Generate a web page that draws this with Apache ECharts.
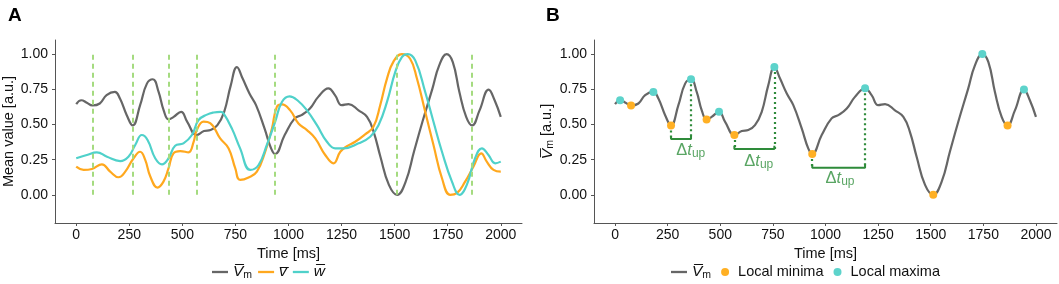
<!DOCTYPE html>
<html><head><meta charset="utf-8">
<script src="https://cdn.jsdelivr.net/npm/echarts@6/dist/echarts.min.js"></script>
<style>html,body{margin:0;padding:0;background:#fff}#c{width:1059px;height:284px}</style>
</head><body><div id="c"></div>
<script>
// ---- data ----
const xTicks = [0, 250, 500, 750, 1000, 1250, 1500, 1750, 2000];
const yTicks = [0, 0.25, 0.5, 0.75, 1];
const vm = [[0,0.644],[24,0.672],[50,0.655],[76,0.635],[111,0.649],[143,0.708],[182,0.731],[206,0.684],[238,0.566],[266,0.493],[301,0.637],[333,0.79],[361,0.821],[388,0.731],[412,0.60],[435,0.536],[459,0.554],[494,0.59],[523,0.519],[567,0.425],[602,0.453],[633,0.46],[665,0.495],[697,0.59],[728,0.778],[757,0.908],[784,0.826],[816,0.72],[847,0.637],[887,0.472],[918,0.33],[937,0.29],[982,0.425],[1029,0.543],[1061,0.566],[1101,0.613],[1140,0.696],[1188,0.757],[1219,0.708],[1251,0.637],[1283,0.645],[1330,0.60],[1370,0.554],[1401,0.448],[1433,0.271],[1473,0.071],[1512,0.0],[1552,0.094],[1591,0.306],[1631,0.519],[1678,0.755],[1710,0.92],[1745,1.0],[1774,0.943],[1805,0.731],[1837,0.554],[1865,0.493],[1900,0.60],[1943,0.748],[1971,0.672],[2000,0.554]];
const vBar = [[0,0.20],[35,0.177],[74,0.184],[121,0.217],[160,0.165],[199,0.125],[231,0.165],[267,0.253],[301,0.306],[325,0.248],[349,0.13],[383,0.052],[411,0.094],[435,0.189],[458,0.295],[490,0.311],[529,0.302],[553,0.377],[568,0.46],[600,0.520],[631,0.510],[678,0.401],[718,0.33],[749,0.189],[772,0.106],[812,0.123],[851,0.165],[890,0.306],[922,0.472],[945,0.625],[969,0.642],[1008,0.60],[1047,0.507],[1087,0.46],[1126,0.401],[1173,0.283],[1212,0.224],[1244,0.306],[1275,0.345],[1314,0.377],[1361,0.43],[1400,0.483],[1432,0.637],[1464,0.826],[1495,0.948],[1534,1.0],[1573,0.967],[1605,0.826],[1644,0.59],[1683,0.354],[1723,0.118],[1762,0.0],[1793,0.012],[1832,0.094],[1871,0.2],[1908,0.295],[1934,0.236],[1966,0.177],[2000,0.165]];
const wBar = [[0,0.26],[50,0.283],[97,0.302],[145,0.271],[207,0.24],[246,0.271],[278,0.354],[309,0.425],[336,0.39],[372,0.26],[404,0.217],[435,0.26],[466,0.349],[505,0.366],[545,0.425],[576,0.531],[616,0.57],[647,0.585],[680,0.59],[694,0.578],[733,0.472],[772,0.33],[820,0.177],[859,0.212],[898,0.354],[937,0.519],[969,0.66],[1005,0.70],[1047,0.665],[1087,0.60],[1134,0.495],[1181,0.377],[1220,0.33],[1259,0.33],[1330,0.366],[1385,0.413],[1424,0.495],[1464,0.66],[1503,0.873],[1534,0.979],[1562,1.0],[1597,0.955],[1644,0.731],[1683,0.519],[1723,0.306],[1770,0.094],[1806,0.0],[1840,0.071],[1879,0.26],[1911,0.33],[1942,0.283],[1974,0.224],[2000,0.236]];
const minT = [76, 266, 435, 567, 937, 1512, 1865];
const minV = [0.635, 0.493, 0.536, 0.425, 0.29, 0.0, 0.493];
const maxT = [24, 182, 361, 494, 757, 1188, 1745, 1943];
const maxV = [0.672, 0.731, 0.821, 0.59, 0.908, 0.757, 1.0, 0.748];
const upStartT = [266, 567, 937];
const upStartV = [0.493, 0.425, 0.29];
const upEndT = [361, 757, 1188];
const upEndV = [0.821, 0.908, 0.757];
const upY = [0.396, 0.326, 0.193];
const upLabelT = [360, 683, 1069];
const upLabelY = [0.318, 0.236, 0.118];
const vlineBottom = 0, vlineTop = 1;

// ---- styles ----
const FONT = 'Liberation Sans';
const C_VM = '#666666', C_V = '#FFA81E', C_W = '#4FD1CA';
const C_MIN = '#FFB024', C_MAX = '#5DD3CB';
const C_DASH = '#A5DB80', C_GREEN = '#2E8B3A', C_GTXT = '#2F8F3C';
const SMOOTH = 0.45;
const LINE_ICON = 'path://M0,0H16V2.3H0Z';

function xAx(gi) {
  return {
    type: 'value', gridIndex: gi, min: -100, max: 2100,
    name: 'Time [ms]', nameLocation: 'middle', nameGap: 20,
    nameTextStyle: {fontFamily: FONT, fontSize: 14.5, color: '#111'},
    splitLine: {show: false},
    axisLine: {onZero: false, lineStyle: {color: '#555', width: 1}},
    axisTick: {show: true, length: 3, customValues: xTicks, lineStyle: {color: '#555'}},
    axisLabel: {customValues: xTicks, fontFamily: FONT, fontSize: 14, color: '#111', margin: 5,
      formatter: v => String(v)}
  };
}
function yAx(gi, name, rich) {
  return {
    type: 'value', gridIndex: gi, min: -0.2, max: 1.1,
    name: name, nameLocation: 'middle', nameGap: 37, nameRotate: 90,
    nameTextStyle: {fontFamily: FONT, fontSize: 14.5, color: '#111', rich: rich},
    splitLine: {show: false},
    axisLine: {show: true, onZero: false, lineStyle: {color: '#555', width: 1}},
    axisTick: {show: true, length: 3, customValues: yTicks, lineStyle: {color: '#555'}},
    axisLabel: {customValues: yTicks, fontFamily: FONT, fontSize: 14, color: '#111', margin: 7,
      formatter: v => v.toFixed(2)}
  };
}
const vmRich = {
  vm: {fontFamily: FONT, fontStyle: 'italic', fontSize: 15.5, color: '#111'},
  sub: {fontFamily: FONT, fontSize: 10.5, color: '#111', verticalAlign: 'bottom', padding: [6, 0, 0, 0]},
  it: {fontFamily: FONT, fontStyle: 'italic', fontSize: 15.5, color: '#111'},
  n: {fontFamily: FONT, fontSize: 14.5, color: '#111'}
};
const legendNames = {
  'Vm': '{vm|V\u0305}{sub|m}',
  'v': '{it|v\u0305}',
  'w': '{it|w\u0305}',
  'Local minima': '{n|Local minima}',
  'Local maxima': '{n|Local maxima}'
};

const series = [];
// Panel A
series.push({type: 'line', name: 'Vm', xAxisIndex: 0, yAxisIndex: 0, data: vm, smooth: SMOOTH, symbol: 'none',
  lineStyle: {color: C_VM, width: 2.2}, itemStyle: {color: C_VM}, z: 3});
series.push({type: 'line', name: 'v', xAxisIndex: 0, yAxisIndex: 0, data: vBar, smooth: SMOOTH, symbol: 'none',
  lineStyle: {color: C_V, width: 2.2}, itemStyle: {color: C_V}, z: 3});
series.push({type: 'line', name: 'w', xAxisIndex: 0, yAxisIndex: 0, data: wBar, smooth: SMOOTH, symbol: 'none',
  lineStyle: {color: C_W, width: 2.2}, itemStyle: {color: C_W}, z: 3,
  markLine: {silent: true, symbol: 'none', label: {show: false},
    lineStyle: {color: C_DASH, width: 2, type: [5, 4]},
    data: minT.map(t => [{coord: [t, vlineBottom]}, {coord: [t, vlineTop]}])}});
// Panel B
series.push({type: 'line', name: 'Vm', xAxisIndex: 1, yAxisIndex: 1, data: vm, smooth: SMOOTH, symbol: 'none',
  lineStyle: {color: C_VM, width: 2.2}, itemStyle: {color: C_VM}, z: 3});
// dotted verticals
const dotted = [];
upStartT.forEach((t, i) => {
  dotted.push([{coord: [t, upStartV[i]]}, {coord: [t, upY[i]]}]);
  dotted.push([{coord: [upEndT[i], upEndV[i]]}, {coord: [upEndT[i], upY[i]]}]);
});
// brackets
upStartT.forEach((t, i) => {
  const d = 0.022;
  series.push({type: 'line', xAxisIndex: 1, yAxisIndex: 1, symbol: 'none', silent: true, smooth: false,
    data: [[t, upY[i] + d], [t, upY[i]], [upEndT[i], upY[i]], [upEndT[i], upY[i] + d]],
    lineStyle: {color: C_GREEN, width: 2}, z: 2,
    markLine: i === 0 ? {silent: true, symbol: 'none', label: {show: false},
      lineStyle: {color: C_GREEN, width: 2.2, type: [2, 3]}, data: dotted} : undefined});
});
series.push({type: 'scatter', xAxisIndex: 1, yAxisIndex: 1, silent: true, symbolSize: 1,
  itemStyle: {color: 'rgba(0,0,0,0)'},
  data: upLabelT.map((t, i) => [t, upLabelY[i]]),
  label: {show: true, position: 'inside', formatter: '{d|Δ}{t|t}{s|up}',
    rich: {
      d: {fontFamily: FONT, fontSize: 16.5, color: C_GTXT},
      t: {fontFamily: FONT, fontStyle: 'italic', fontSize: 16.5, color: C_GTXT},
      s: {fontFamily: FONT, fontSize: 12, color: C_GTXT, verticalAlign: 'bottom', padding: [7, 0, 0, 0]}
    }}, z: 4});
series.push({type: 'scatter', name: 'Local minima', xAxisIndex: 1, yAxisIndex: 1,
  data: minT.map((t, i) => [t, minV[i]]), symbolSize: 8, itemStyle: {color: C_MIN, opacity: 1}, z: 5});
series.push({type: 'scatter', name: 'Local maxima', xAxisIndex: 1, yAxisIndex: 1,
  data: maxT.map((t, i) => [t, maxV[i]]), symbolSize: 8, itemStyle: {color: C_MAX, opacity: 1}, z: 5});

const option = {
  animation: false,
  backgroundColor: '#fff',
  title: [
    {text: 'A', left: 3, top: 1, textStyle: {fontFamily: FONT, fontSize: 19, fontWeight: 'bold', color: '#000'}},
    {text: 'B', left: 541, top: 1, textStyle: {fontFamily: FONT, fontSize: 19, fontWeight: 'bold', color: '#000'}}
  ],
  grid: [
    {left: 55, right: 537, top: 40, bottom: 61},
    {left: 594, right: 2, top: 40, bottom: 61}
  ],
  xAxis: [xAx(0), xAx(1)],
  yAxis: [
    yAx(0, 'Mean value [a.u.]', vmRich),
    yAx(1, '{vm|V\u0305}{sub|m}{n| [a.u.]}', vmRich)
  ],
  legend: [
    {data: [{name: 'Vm', icon: LINE_ICON}, {name: 'v', icon: LINE_ICON}, {name: 'w', icon: LINE_ICON}],
      left: 207, top: 259, itemWidth: 16, itemHeight: 8, itemGap: 6,
      formatter: n => legendNames[n], textStyle: {rich: vmRich}, selectedMode: false},
    {data: [{name: 'Vm', icon: LINE_ICON}, {name: 'Local minima', icon: 'circle'}, {name: 'Local maxima', icon: 'circle'}],
      left: 666, top: 259, itemWidth: 16, itemHeight: 8, itemGap: 10,
      formatter: n => legendNames[n], textStyle: {rich: vmRich}, selectedMode: false}
  ],
  series: series
};
const chart = echarts.init(document.getElementById('c'), null, {renderer: 'canvas'});
chart.setOption(option);
</script></body></html>
